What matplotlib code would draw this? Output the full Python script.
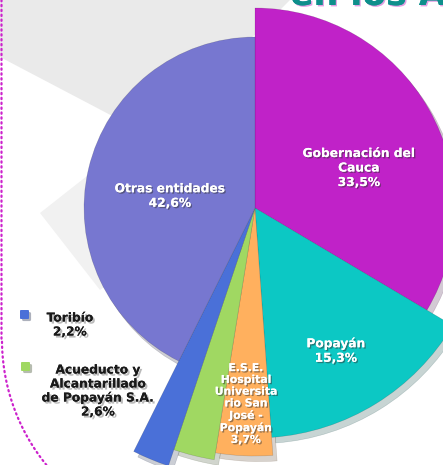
import numpy as np
import matplotlib
matplotlib.use("Agg")
import matplotlib.pyplot as plt
import matplotlib.patches as mpatches
import matplotlib.patheffects as pe

# ── data ───────────────────────────────────────────────────────────────────────
labels = ["Gobernación del\nCauca", "Popayán",
          "E.S.E.\nHospital\nUniversita\nrio San\nJosé -\nPopayán",
          "Acueducto y\nAlcantarillado\nde Popayán S.A.", "Toribío",
          "Otras entidades"]
values = [33.5, 15.3, 3.7, 2.6, 2.2, 42.6]
pct_text = ["33,5%", "15,3%", "3,7%", "2,6%", "2,2%", "42,6%"]

# ── style ─────────────────────────────────────────────────────────────────────
W, H = 443, 465
CX, CY = 255, 208                      # pie centre (screen px, y down)
RADII = [200, 230, 248, 255, 272, 171]  # each slice has its own radius
COLORS = ["#c022c8", "#0cc8c4", "#ffb05e", "#a0d862", "#4a70d8", "#7777d0"]
# label centre (screen px), font size, line spacing for labels inside slices
INSIDE = {0: (359, 168, 8.8, 1.15), 1: (336, 351, 8.8, 1.15),
          2: (246, 404, 7.8, 1.22), 5: (170, 196, 8.8, 1.15)}
# legend-like labels for the thin slices: text centre, square corner
OUTSIDE = {4: (70, 325, (20, 310)), 3: (98, 391, (21, 362))}

plt.rcParams["font.family"] = ["DejaVu Sans"]

fig = plt.figure(figsize=(W / 100, H / 100), dpi=100)
ax = fig.add_axes([0, 0, 1, 1])


def sy(y):
    return H - y


# background decoration: grey diamonds on white
ax.add_patch(mpatches.Polygon(
    [(0, sy(0)), (290, sy(0)), (255, sy(35)), (120, sy(120)), (0, sy(57))],
    closed=True, facecolor="#eaeaea", edgecolor="none", zorder=0))
ax.add_patch(mpatches.Polygon(
    [(40, sy(213)), (120, sy(150)), (200, sy(215)), (100, sy(290))],
    closed=True, facecolor="#f1f1f1", edgecolor="none", zorder=0))

# dotted magenta frame on the left
t = np.linspace(np.pi, np.pi * 1.28, 60)
fx = np.concatenate([np.full(60, 1.5), 200 + 198 * np.cos(t)])
fy = np.concatenate([np.linspace(0, 340, 60), 340 - 198 * np.sin(t)])
ax.plot(fx, [sy(v) for v in fy], linestyle=(0, (0.6, 1.6)), color="#cc22cc",
        linewidth=1.6, dash_capstyle="round", zorder=1)

# title fragment cut at the top edge
ax.text(290, sy(5), "en los Ac", fontsize=25, fontweight="bold",
        color="#0e8f8c", ha="left", va="baseline", zorder=2,
        path_effects=[pe.withSimplePatchShadow(offset=(1, -1),
                                               shadow_rgbFace="#d060d0",
                                               alpha=0.6), pe.Normal()])

wedges, _ = ax.pie(values, colors=COLORS, startangle=90, counterclock=False,
                   center=(CX, sy(CY)), radius=200,
                   wedgeprops=dict(linewidth=0.4, edgecolor="#00000030"),
                   frame=True)
ax.set_xlim(0, W)
ax.set_ylim(0, H)
ax.set_aspect("equal")
ax.axis("off")
for w, r in zip(wedges, RADII):
    w.set_radius(r)
    w.set_zorder(3)
for w in wedges:
    sh = mpatches.Shadow(w, 3, -4, alpha=0.22)
    sh.set_zorder(2)
    ax.add_patch(sh)

white_fx = [pe.withSimplePatchShadow(offset=(1, -1), shadow_rgbFace="#333333",
                                     alpha=0.5), pe.Normal()]
for i, (x, y, fs, ls) in INSIDE.items():
    ax.text(x, sy(y), f"{labels[i]}\n{pct_text[i]}", ha="center",
            va="center", fontsize=fs, fontweight="bold", color="white",
            linespacing=ls, zorder=5, path_effects=white_fx)

dark_fx = [pe.withSimplePatchShadow(offset=(1.5, -1.5),
                                    shadow_rgbFace="#777777", alpha=0.5),
           pe.Normal()]
for i, (x, y, (qx, qy)) in OUTSIDE.items():
    ax.text(x, sy(y), f"{labels[i]}\n{pct_text[i]}", ha="center",
            va="center", fontsize=8.8, fontweight="bold", color="#1a1a1a",
            linespacing=1.1, zorder=5, path_effects=dark_fx)
    ax.add_patch(mpatches.FancyBboxPatch(
        (qx, sy(qy) - 9), 9, 9, boxstyle="round,pad=0,rounding_size=1.5",
        facecolor=COLORS[i], edgecolor="none", zorder=5,
        path_effects=[pe.withSimplePatchShadow(offset=(1.5, -1.5),
                                               alpha=0.35), pe.Normal()]))

fig.savefig("out.png", dpi=100)
